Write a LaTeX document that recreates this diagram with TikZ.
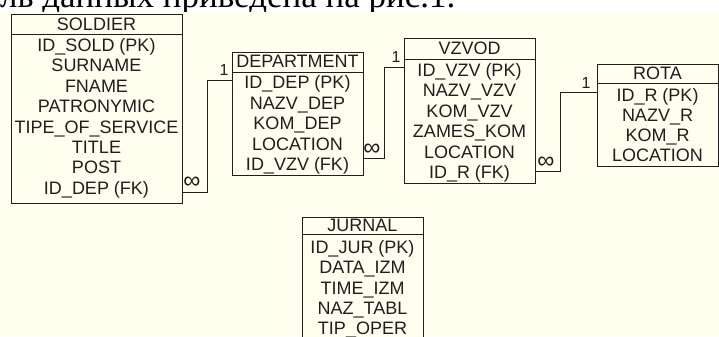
\documentclass[tikz,border=0pt]{standalone}
\usepackage{fontspec}
\setmainfont{Liberation Sans}
\newfontfamily\serifcyr{Liberation Serif}
\definecolor{cream}{RGB}{255,255,240}
\definecolor{ink}{RGB}{30,30,30}
\begin{document}
\begin{tikzpicture}[x=1bp,y=-1bp,
  tbl/.style={draw=ink,line width=0.9bp,fill=cream,inner sep=0pt,anchor=north west},
  fld/.style={anchor=base,inner sep=0pt,font=\fontsize{18bp}{20bp}\selectfont,text=ink},
  card/.style={anchor=base,inner sep=0pt,font=\fontsize{16bp}{18bp}\selectfont,text=ink},
  many/.style={anchor=center,inner sep=0pt,font=\fontsize{24bp}{26bp}\selectfont,text=ink},
  link/.style={draw=ink,line width=0.9bp},
  sep/.style={draw=ink,line width=0.9bp}]
\clip (0,0) rectangle (719,336);
\fill[white] (0,0) rectangle (719,336);
\node[anchor=base west,inner sep=0pt,font=\serifcyr\fontsize{35bp}{38bp}\selectfont] (topline) at (0,7) {ль данных приведена на рис.1.};
\fill[cream] (0,12) rectangle (719,336);

% SOLDIER
\node[tbl,minimum width=171bp,minimum height=189bp] (sold) at (11,14) {};
\draw[sep] (sold.west |- 0,34) -- (sold.east |- 0,34);
\node[fld] (soldh) at (96.5,30.5) {SOLDIER};
\foreach \t [count=\i from 0] in {ID\_SOLD (PK),SURNAME,FNAME,PATRONYMIC,TIPE\_OF\_SERVICE,TITLE,POST,ID\_DEP (FK)}
  \node[fld] (soldr\i) at (96.5,51.5+20.4*\i) {\t};

% DEPARTMENT
\node[tbl,minimum width=131bp,minimum height=123bp] (dept) at (232,52) {};
\draw[sep] (dept.west |- 0,72) -- (dept.east |- 0,72);
\node[fld] (depth) at (297.5,67.5) {DEPARTMENT};
\foreach \t [count=\i from 0] in {ID\_DEP (PK),NAZV\_DEP,KOM\_DEP,LOCATION,ID\_VZV (FK)}
  \node[fld] (deptr\i) at (297.5,88.5+20.5*\i) {\t};

% VZVOD
\node[tbl,minimum width=131bp,minimum height=145bp] (vzv) at (404,38) {};
\draw[sep] (vzv.west |- 0,59) -- (vzv.east |- 0,59);
\node[fld] (vzvh) at (469.5,54.5) {VZVOD};
\foreach \t [count=\i from 0] in {ID\_VZV (PK),NAZV\_VZV,KOM\_VZV,ZAMES\_KOM,LOCATION,ID\_R (FK)}
  \node[fld] (vzvr\i) at (469.5,76.5+20.4*\i) {\t};

% ROTA
\node[tbl,minimum width=121bp,minimum height=102bp] (rota) at (597,64) {};
\draw[sep] (rota.west |- 0,83) -- (rota.east |- 0,83);
\node[fld] (rotah) at (657.5,79.5) {ROTA};
\foreach \t [count=\i from 0] in {ID\_R (PK),NAZV\_R,KOM\_R,LOCATION}
  \node[fld] (rotar\i) at (657.5,101.5+20*\i) {\t};

% JURNAL
\node[tbl,minimum width=121bp,minimum height=140bp] (jur) at (302,217) {};
\draw[sep] (jur.west |- 0,234) -- (jur.east |- 0,234);
\node[fld] (jurh) at (362.5,231.5) {JURNAL};
\foreach \t [count=\i from 0] in {ID\_JUR (PK),DATA\_IZM,TIME\_IZM,NAZ\_TABL,TIP\_OPER}
  \node[fld] (jurr\i) at (362.5,253.5+20.3*\i) {\t};

% ports
\coordinate (p1a) at (sold.east |- 0,192);
\coordinate (p1b) at (dept.west |- 0,80);
\coordinate (p2a) at (dept.east |- 0,158);
\coordinate (p2b) at (vzv.west |- 0,67);
\coordinate (p3a) at (vzv.east |- 0,171);
\coordinate (p3b) at (rota.west |- 0,92);

\draw[link] (p1a) -- (207,192) |- (p1b);
\draw[link] (p2a) -- (384,158) |- (p2b);
\draw[link] (p3a) -- (560,171) |- (p3b);

\node[many] (m1) at (192,183) {∞};
\node[many] (m2) at (372,150) {∞};
\node[many] (m3) at (546,163) {∞};
\node[card] (o1) at (224,75) {1};
\node[card] (o2) at (396,62) {1};
\node[card] (o3) at (586,88) {1};
\end{tikzpicture}
\end{document}
